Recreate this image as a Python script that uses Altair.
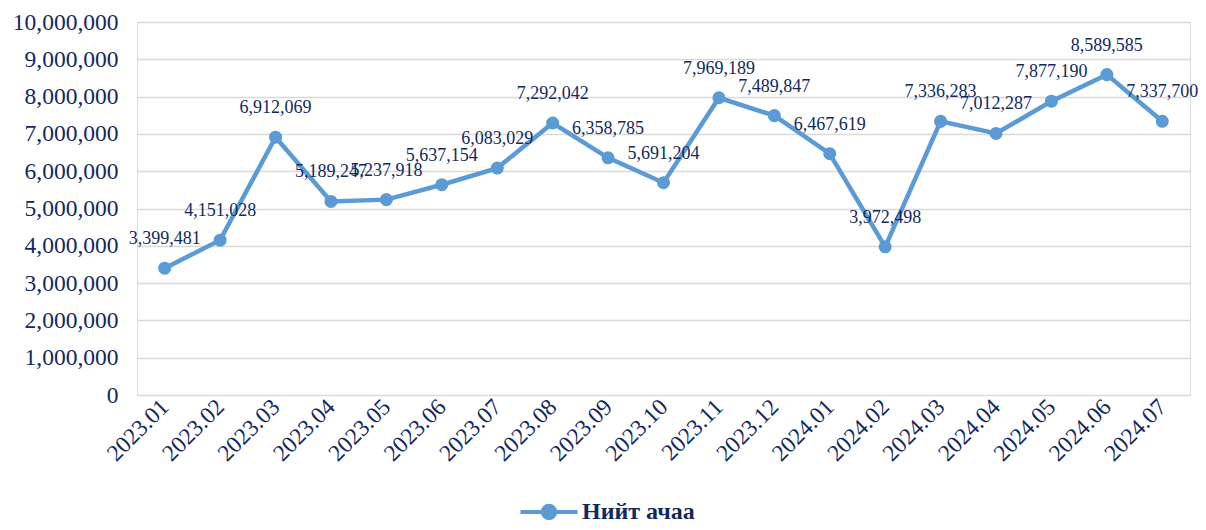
import altair as alt
import pandas as pd

months = ["2023.01", "2023.02", "2023.03", "2023.04", "2023.05", "2023.06", "2023.07",
          "2023.08", "2023.09", "2023.10", "2023.11", "2023.12", "2024.01", "2024.02",
          "2024.03", "2024.04", "2024.05", "2024.06", "2024.07"]
values = [3399481, 4151028, 6912069, 5189247, 5237918, 5637154, 6083029,
          7292042, 6358785, 5691204, 7969189, 7489847, 6467619, 3972498,
          7336283, 7012287, 7877190, 8589585, 7337700]
series = "Нийт ачаа"
y_ticks = [0, 1000000, 2000000, 3000000, 4000000, 5000000, 6000000, 7000000,
           8000000, 9000000, 10000000]

df = pd.DataFrame({"month": months, "value": values, "series": [series] * len(months)})

NAVY = "#12295f"
BLUE = "#5b9bd5"
FONT = "Liberation Serif"

x = alt.X("month:O", sort=months, title=None,
          scale=alt.Scale(type="point", padding=0.5),
          axis=alt.Axis(labelAngle=-45, labelAlign="right", labelBaseline="middle",
                        labelFontSize=23.5, labelColor=NAVY, labelFont=FONT,
                        ticks=False, domain=False, labelPadding=8, grid=False))
y = alt.Y("value:Q", title=None,
          scale=alt.Scale(domain=[0, 10000000], nice=False),
          axis=alt.Axis(values=y_ticks, format=",.0f", labelFontSize=23.5, labelColor=NAVY,
                        labelFont=FONT, ticks=False, domain=False, labelPadding=19,
                        gridColor="#d9d9d9", gridWidth=1.5))

color = alt.Color("series:N", title=None,
                  scale=alt.Scale(range=[BLUE]),
                  legend=alt.Legend(orient="none", legendX=381, legendY=459,
                                    symbolType="M-1,0H1M0.22,0A0.22,0.22,0,1,1,-0.22,0A0.22,0.22,0,1,1,0.22,0",
                                    symbolSize=3250, symbolStrokeWidth=4,
                                    symbolFillColor=BLUE, symbolStrokeColor=BLUE,
                                    labelFontSize=24, labelFont=FONT, labelFontWeight="bold",
                                    labelColor=NAVY, labelOffset=2))

base = alt.Chart(df)
line = base.mark_line(strokeWidth=4.5).encode(x=x, y=y, color=color)
pts = base.mark_circle(size=170, opacity=1).encode(x=x, y=y, color=alt.Color("series:N", legend=None, scale=alt.Scale(range=[BLUE])))
labels = base.mark_text(dy=-29, fontSize=18, font=FONT, color=NAVY).encode(
    x=x, y=y, text=alt.Text("value:Q", format=",.0f"))

chart = alt.layer(line, pts, labels).properties(
    width=1053, height=373,
    autosize=alt.AutoSizeParams(type="none"),
    padding={"left": 129, "top": 14, "right": 8, "bottom": 127},
).configure_view(stroke=None).configure(background="white")

chart.save("out.html", embed_options={"renderer": "svg", "actions": False})
